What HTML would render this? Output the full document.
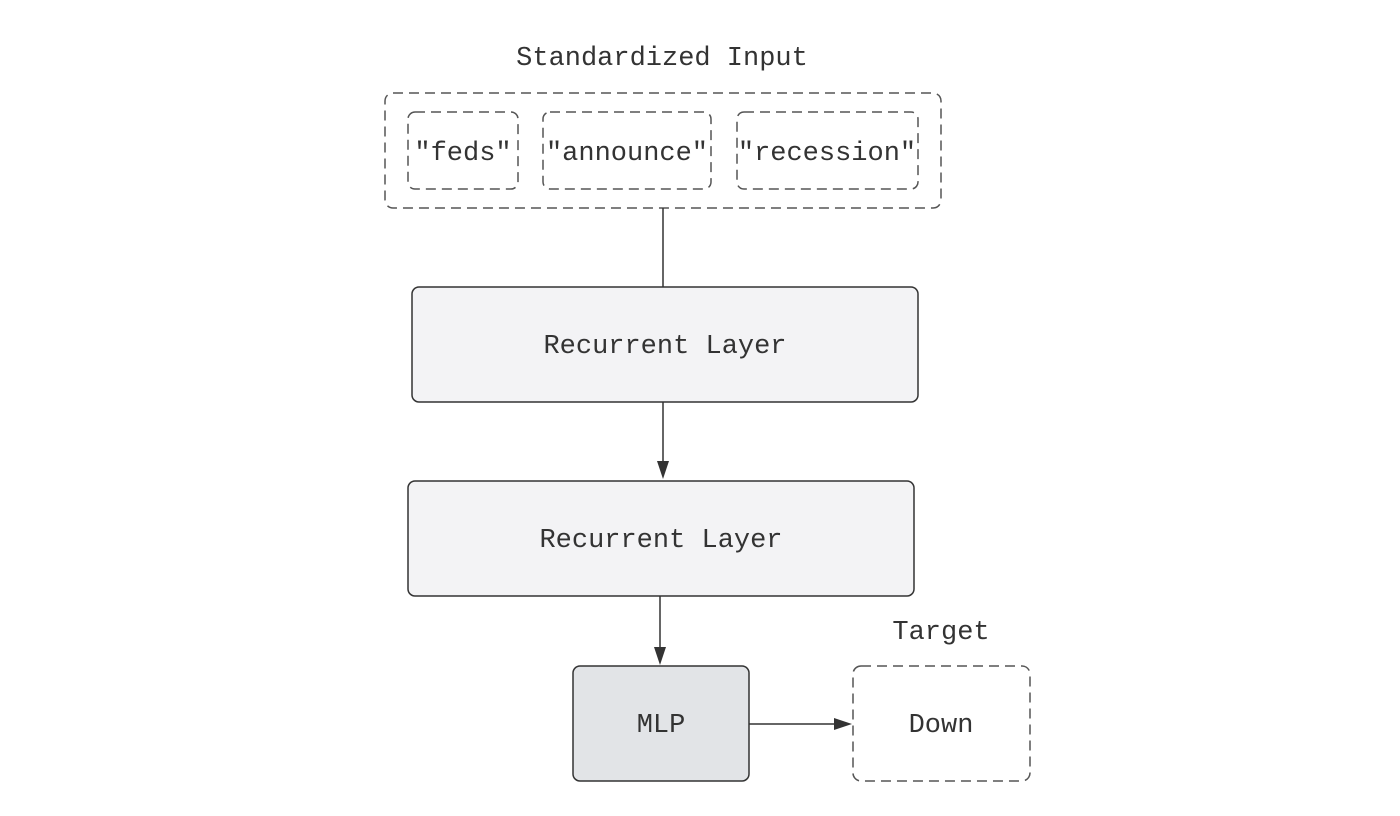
<!DOCTYPE html>
<html><head><meta charset="utf-8"><style>
html,body{margin:0;padding:0;background:#fff;}
svg{display:block;}
text{font-family:"Liberation Mono",monospace;font-size:27px;fill:#333;}
</style></head><body>
<svg width="1400" height="816" viewBox="0 0 1400 816" xmlns="http://www.w3.org/2000/svg">
<text x="662" y="65" text-anchor="middle">Standardized Input</text>
<rect x="385" y="93" width="556" height="115" rx="8" fill="none" stroke="#555" stroke-width="1.5" stroke-dasharray="10,6"/>
<rect x="408" y="112" width="110" height="77" rx="7" fill="none" stroke="#555" stroke-width="1.5" stroke-dasharray="10,6"/>
<rect x="543" y="112" width="168" height="77" rx="7" fill="none" stroke="#555" stroke-width="1.5" stroke-dasharray="10,6"/>
<rect x="737" y="112" width="181" height="77" rx="7" fill="none" stroke="#555" stroke-width="1.5" stroke-dasharray="10,6"/>
<text x="463" y="160" text-anchor="middle">"feds"</text>
<text x="627" y="160" text-anchor="middle">"announce"</text>
<text x="827" y="160" text-anchor="middle">"recession"</text>
<line x1="663" y1="208" x2="663" y2="287" stroke="#333" stroke-width="1.5"/>
<rect x="412" y="287" width="506" height="115" rx="7" fill="#f3f3f5" stroke="#333" stroke-width="1.5"/>
<text x="665" y="353" text-anchor="middle">Recurrent Layer</text>
<line x1="663" y1="402" x2="663" y2="465" stroke="#333" stroke-width="1.5"/>
<polygon points="657,461 669,461 663,479" fill="#333"/>
<rect x="408" y="481" width="506" height="115" rx="7" fill="#f3f3f5" stroke="#333" stroke-width="1.5"/>
<text x="661" y="547" text-anchor="middle">Recurrent Layer</text>
<line x1="660" y1="596" x2="660" y2="650" stroke="#333" stroke-width="1.5"/>
<polygon points="654,647 666,647 660,665" fill="#333"/>
<rect x="573" y="666" width="176" height="115" rx="7" fill="#e2e4e7" stroke="#333" stroke-width="1.5"/>
<text x="661" y="732" text-anchor="middle">MLP</text>
<line x1="749" y1="724" x2="838" y2="724" stroke="#333" stroke-width="1.5"/>
<polygon points="834,718 834,730 852,724" fill="#333"/>
<text x="941" y="639" text-anchor="middle">Target</text>
<rect x="853" y="666" width="177" height="115" rx="8" fill="none" stroke="#555" stroke-width="1.5" stroke-dasharray="10,6"/>
<text x="941" y="732" text-anchor="middle">Down</text>
</svg>
</body></html>
